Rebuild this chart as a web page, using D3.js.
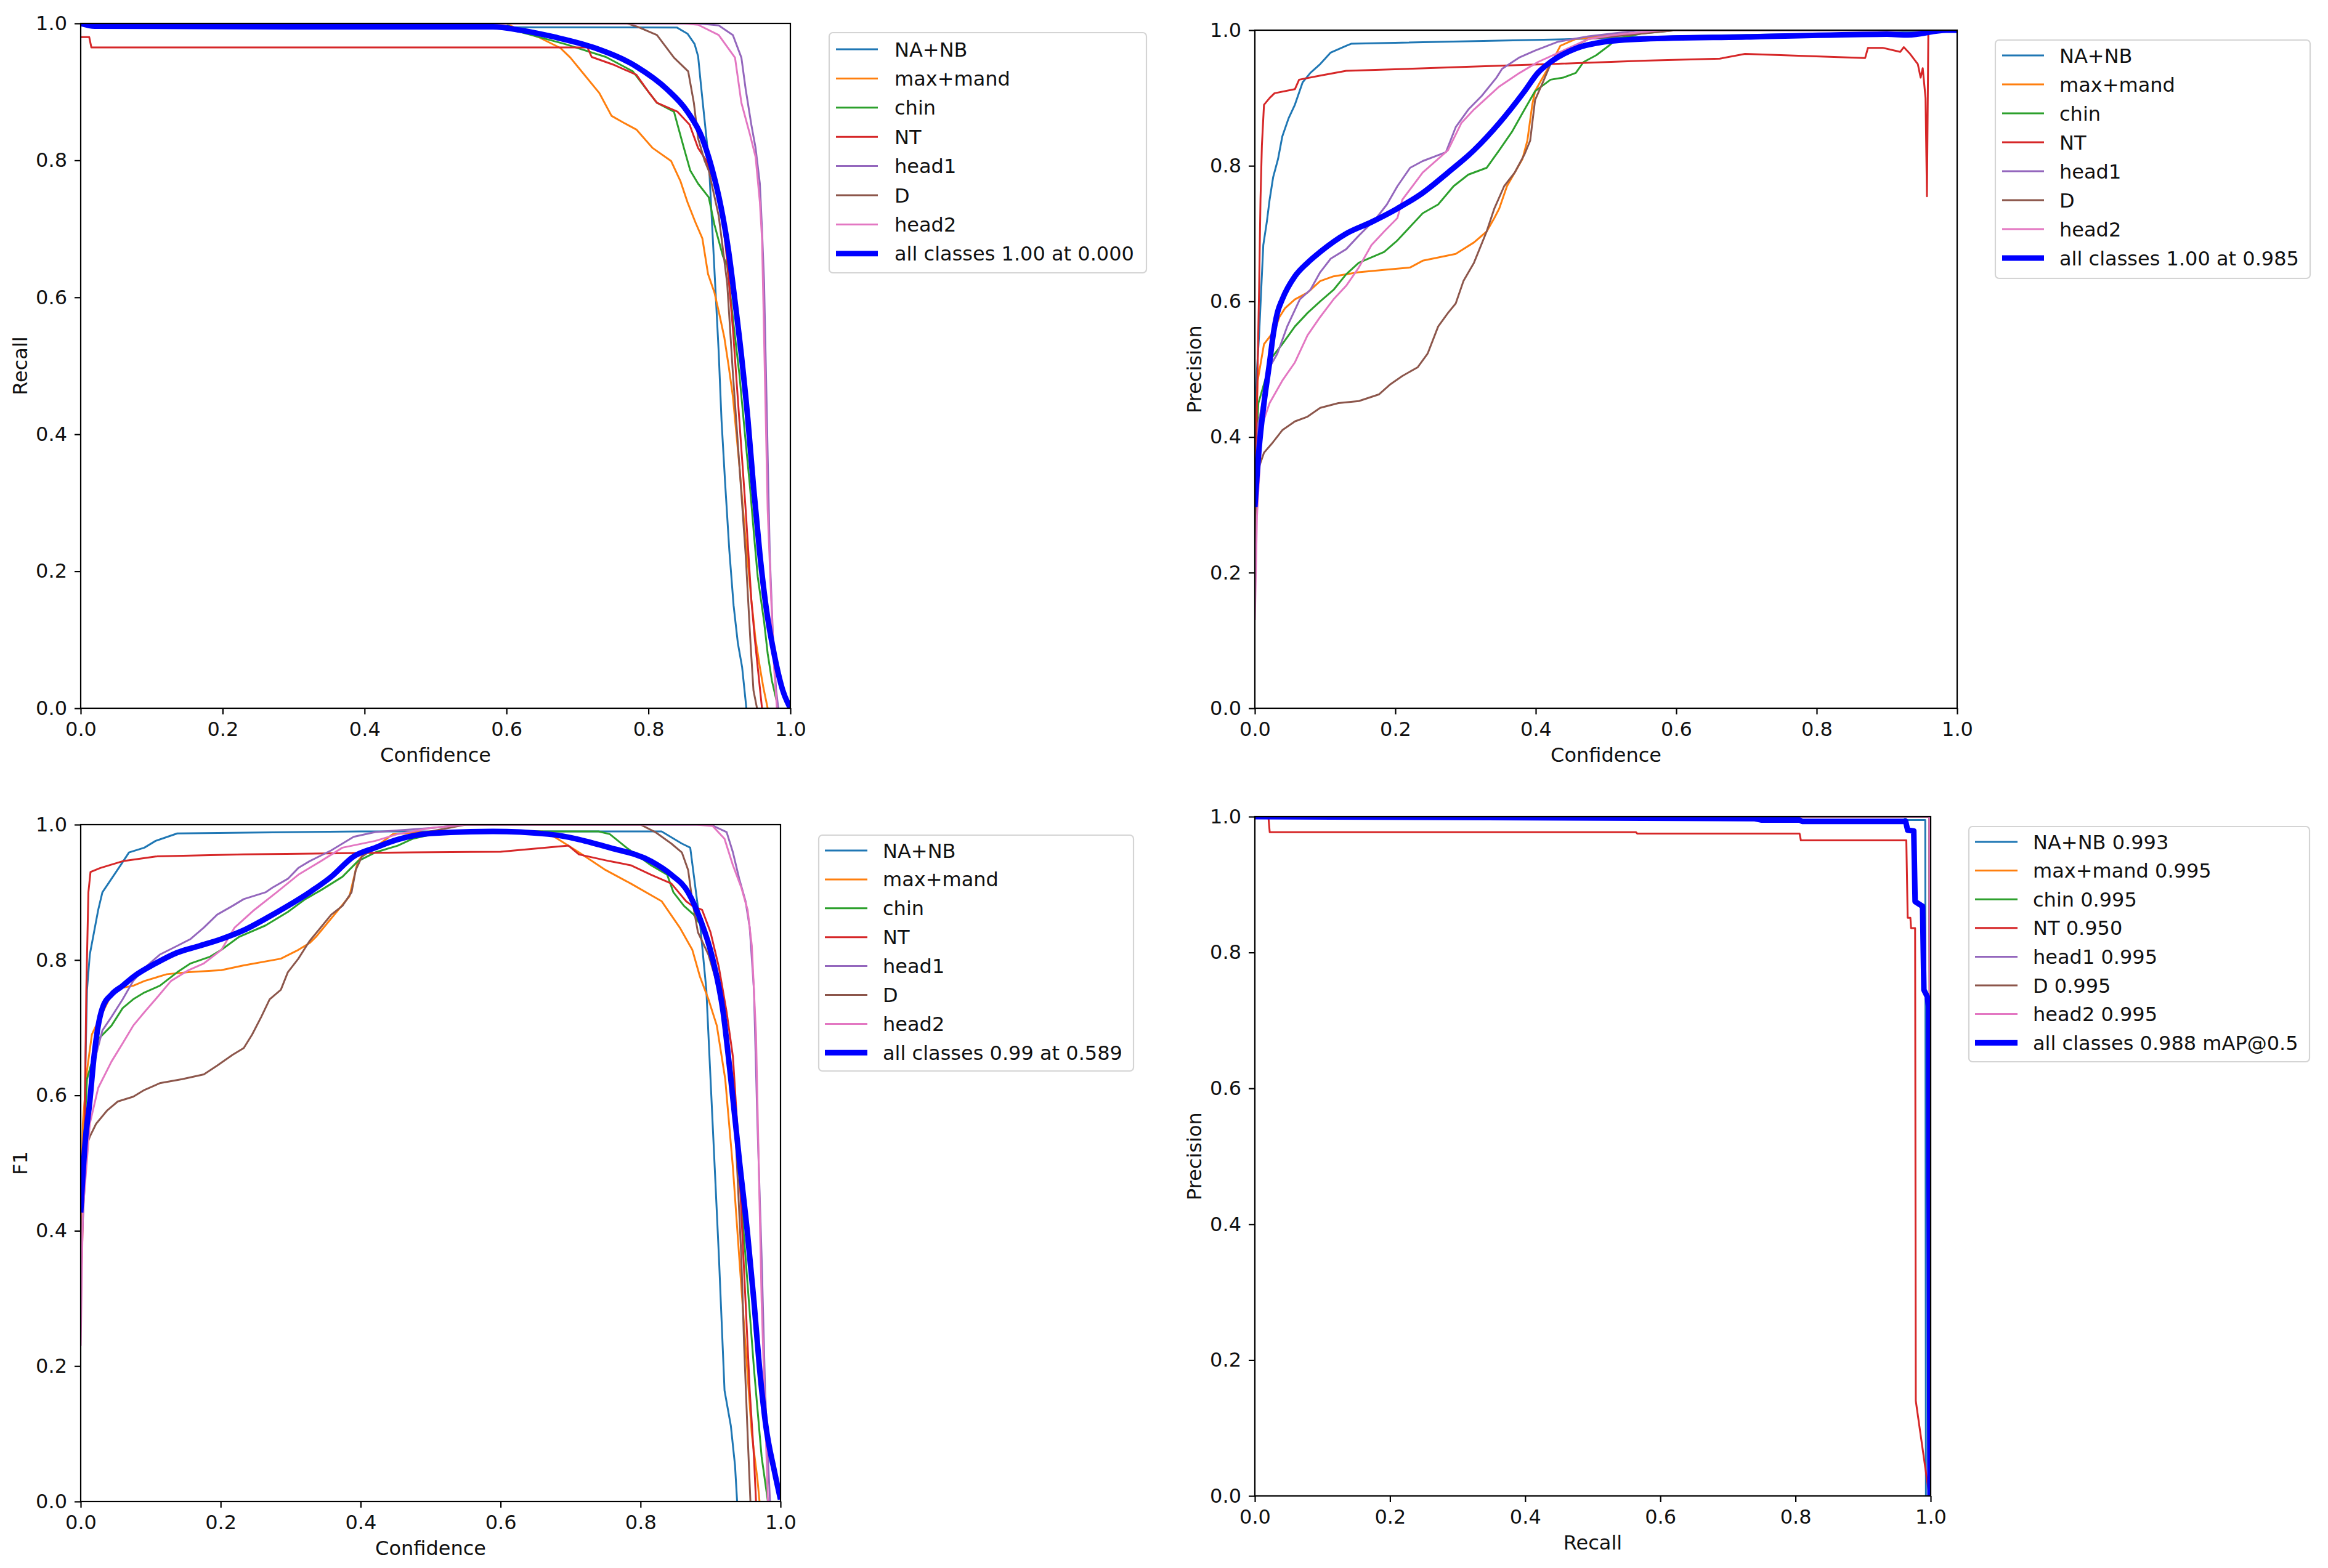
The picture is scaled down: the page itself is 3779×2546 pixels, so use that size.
<!DOCTYPE html>
<html>
<head>
<meta charset="utf-8">
<script src="https://cdn.jsdelivr.net/npm/d3@7"></script>
<style>
  body { margin: 0; background: #ffffff; }
  text { font-family: "DejaVu Sans", sans-serif; fill: #111; }
</style>
</head>
<body>
<div id="chart"></div>
<script>
// class names, colours and tick values
const classNames = ["NA+NB", "max+mand", "chin", "NT", "head1", "D", "head2"];
const classColors = ["#1f77b4", "#ff7f0e", "#2ca02c", "#d62728", "#9467bd", "#8c564b", "#e377c2"];
const apValues = ["0.993", "0.995", "0.995", "0.950", "0.995", "0.995", "0.995"];
const tickValues = [0, 0.2, 0.4, 0.6, 0.8, 1.0];
const allLabels = ["all classes 1.00 at 0.000", "all classes 1.00 at 0.985",
                   "all classes 0.99 at 0.589", "all classes 0.988 mAP@0.5"];

// Recall vs confidence
const rcNANB = [[0,1.0],[0.02,0.995],[0.84,0.994],[0.855,0.985],[0.865,0.97],[0.87,0.952],[0.874,0.91],[0.879,0.86],[0.885,0.80],[0.889,0.72],[0.894,0.62],[0.899,0.52],[0.903,0.42],[0.908,0.33],[0.914,0.23],[0.92,0.15],[0.926,0.095],[0.932,0.06],[0.938,0]];
const rcMax = [[0,1.0],[0.6,1.0],[0.618,0.99],[0.645,0.98],[0.676,0.964],[0.69,0.95],[0.705,0.931],[0.731,0.898],[0.748,0.865],[0.765,0.855],[0.783,0.845],[0.806,0.818],[0.832,0.799],[0.845,0.77],[0.855,0.739],[0.866,0.71],[0.876,0.686],[0.884,0.634],[0.893,0.607],[0.9,0.575],[0.907,0.541],[0.913,0.50],[0.919,0.455],[0.928,0.356],[0.936,0.257],[0.945,0.158],[0.951,0.10],[0.957,0.06],[0.962,0.03],[0.968,0]];
const rcChin = [[0,1.0],[0.6,1.0],[0.61,0.99],[0.682,0.97],[0.74,0.951],[0.778,0.93],[0.80,0.90],[0.812,0.884],[0.836,0.871],[0.841,0.852],[0.85,0.818],[0.859,0.785],[0.870,0.766],[0.885,0.746],[0.893,0.706],[0.905,0.66],[0.911,0.647],[0.92,0.56],[0.928,0.489],[0.936,0.40],[0.943,0.324],[0.949,0.25],[0.954,0.192],[0.963,0.126],[0.968,0.08],[0.974,0.04],[0.983,0]];
const rcNT = [[0,0.98],[0.012,0.98],[0.015,0.965],[0.714,0.965],[0.72,0.951],[0.75,0.94],[0.783,0.925],[0.80,0.90],[0.812,0.884],[0.841,0.871],[0.858,0.852],[0.870,0.818],[0.882,0.799],[0.893,0.766],[0.902,0.739],[0.906,0.70],[0.911,0.653],[0.919,0.554],[0.928,0.422],[0.937,0.29],[0.945,0.158],[0.950,0.10],[0.954,0.06],[0.960,0]];
const rcHead1 = [[0,1.0],[0.87,1.0],[0.899,0.997],[0.919,0.983],[0.931,0.95],[0.937,0.904],[0.945,0.852],[0.951,0.818],[0.957,0.766],[0.960,0.70],[0.963,0.62],[0.965,0.52],[0.967,0.422],[0.969,0.32],[0.971,0.224],[0.976,0.09],[0.98,0.026],[0.983,0]];
const rcD = [[0,1.0],[0.77,1.0],[0.785,0.995],[0.812,0.983],[0.836,0.95],[0.856,0.93],[0.864,0.884],[0.870,0.832],[0.879,0.80],[0.885,0.785],[0.899,0.719],[0.905,0.67],[0.911,0.62],[0.919,0.489],[0.928,0.357],[0.937,0.224],[0.944,0.092],[0.948,0.026],[0.953,0]];
const rcHead2 = [[0,1.0],[0.85,1.0],[0.870,0.998],[0.899,0.983],[0.922,0.95],[0.931,0.884],[0.943,0.838],[0.951,0.805],[0.957,0.739],[0.96,0.686],[0.962,0.59],[0.964,0.489],[0.966,0.39],[0.968,0.29],[0.973,0.158],[0.977,0.06],[0.981,0]];
const rcAll = [[0,1.0],[0.02,0.996],[0.3,0.995],[0.581,0.995],[0.62,0.99],[0.668,0.98],[0.725,0.964],[0.783,0.937],[0.826,0.904],[0.855,0.871],[0.876,0.832],[0.890,0.786],[0.902,0.733],[0.913,0.667],[0.922,0.594],[0.931,0.515],[0.940,0.423],[0.948,0.324],[0.957,0.225],[0.966,0.146],[0.977,0.08],[0.989,0.027],[1.0,0.0]];

// Precision vs confidence
const pcNANB = [[0,0.40],[0.003,0.50],[0.006,0.55],[0.012,0.683],[0.017,0.717],[0.021,0.75],[0.026,0.783],[0.033,0.81],[0.039,0.843],[0.048,0.87],[0.057,0.89],[0.068,0.923],[0.079,0.937],[0.093,0.95],[0.108,0.967],[0.13,0.977],[0.137,0.98],[0.457,0.987],[0.55,0.99],[0.7,0.993],[0.9,0.996],[1.0,1.0]];
const pcMax = [[0,0.35],[0.004,0.483],[0.013,0.537],[0.028,0.557],[0.035,0.577],[0.043,0.59],[0.057,0.603],[0.075,0.613],[0.093,0.63],[0.112,0.637],[0.148,0.643],[0.188,0.647],[0.221,0.65],[0.239,0.66],[0.286,0.67],[0.312,0.687],[0.33,0.703],[0.341,0.723],[0.348,0.737],[0.359,0.77],[0.37,0.79],[0.381,0.81],[0.388,0.837],[0.395,0.89],[0.399,0.91],[0.406,0.923],[0.417,0.943],[0.428,0.963],[0.435,0.977],[0.457,0.987],[0.493,0.991],[0.53,0.995],[0.6,1.0],[1.0,1.0]];
const pcChin = [[0,0.35],[0.005,0.45],[0.024,0.517],[0.039,0.537],[0.057,0.563],[0.075,0.583],[0.093,0.6],[0.112,0.617],[0.13,0.64],[0.148,0.657],[0.184,0.673],[0.203,0.69],[0.221,0.71],[0.239,0.73],[0.261,0.743],[0.283,0.77],[0.304,0.787],[0.33,0.797],[0.348,0.823],[0.366,0.85],[0.384,0.883],[0.399,0.91],[0.421,0.927],[0.439,0.93],[0.457,0.937],[0.468,0.953],[0.486,0.963],[0.504,0.977],[0.515,0.987],[0.55,0.995],[0.6,1.0],[1.0,1.0]];
const pcNT = [[0,0.25],[0.003,0.45],[0.006,0.617],[0.008,0.75],[0.01,0.83],[0.013,0.89],[0.021,0.90],[0.028,0.907],[0.057,0.913],[0.063,0.927],[0.093,0.933],[0.13,0.94],[0.275,0.945],[0.42,0.95],[0.555,0.955],[0.662,0.958],[0.698,0.965],[0.869,0.959],[0.873,0.974],[0.894,0.974],[0.919,0.968],[0.924,0.975],[0.933,0.965],[0.944,0.95],[0.948,0.93],[0.951,0.944],[0.955,0.90],[0.957,0.755],[0.959,1.0],[1.0,1.0]];
const pcHead1 = [[0,0.32],[0.005,0.42],[0.021,0.503],[0.032,0.523],[0.046,0.563],[0.064,0.603],[0.079,0.617],[0.093,0.643],[0.108,0.663],[0.13,0.677],[0.148,0.697],[0.173,0.723],[0.188,0.743],[0.203,0.77],[0.221,0.797],[0.239,0.807],[0.272,0.82],[0.286,0.857],[0.304,0.883],[0.323,0.903],[0.344,0.93],[0.352,0.943],[0.377,0.96],[0.399,0.97],[0.432,0.983],[0.475,0.991],[0.55,1.0],[1.0,1.0]];
const pcD = [[0,0.217],[0.004,0.35],[0.013,0.377],[0.024,0.39],[0.039,0.41],[0.057,0.423],[0.075,0.43],[0.093,0.443],[0.119,0.45],[0.148,0.453],[0.177,0.463],[0.192,0.477],[0.21,0.49],[0.232,0.503],[0.246,0.523],[0.261,0.563],[0.275,0.583],[0.286,0.597],[0.297,0.63],[0.312,0.657],[0.33,0.703],[0.341,0.737],[0.355,0.77],[0.37,0.79],[0.384,0.817],[0.392,0.837],[0.399,0.897],[0.41,0.923],[0.421,0.95],[0.443,0.97],[0.475,0.987],[0.6,1.0],[1.0,1.0]];
const pcHead2 = [[0,0.13],[0.003,0.283],[0.01,0.417],[0.021,0.45],[0.039,0.483],[0.057,0.51],[0.075,0.55],[0.093,0.577],[0.112,0.603],[0.13,0.623],[0.148,0.65],[0.166,0.683],[0.184,0.703],[0.203,0.723],[0.21,0.75],[0.239,0.79],[0.275,0.823],[0.294,0.863],[0.312,0.883],[0.348,0.917],[0.377,0.937],[0.403,0.953],[0.439,0.97],[0.475,0.987],[0.512,0.993],[0.58,1.0],[1.0,1.0]];
const pcAll = [[0,0.297],[0.006,0.383],[0.013,0.45],[0.021,0.51],[0.026,0.55],[0.032,0.583],[0.039,0.603],[0.057,0.637],[0.075,0.657],[0.093,0.673],[0.13,0.7],[0.166,0.717],[0.203,0.737],[0.239,0.76],[0.275,0.79],[0.312,0.823],[0.348,0.863],[0.384,0.91],[0.403,0.937],[0.421,0.953],[0.457,0.973],[0.493,0.982],[0.555,0.987],[0.7,0.99],[0.9,0.994],[0.93,0.993],[0.985,1.0],[1.0,1.0]];

// F1 vs confidence
const fcNANB = [[0,0.35],[0.005,0.558],[0.009,0.756],[0.013,0.808],[0.019,0.841],[0.025,0.874],[0.031,0.9],[0.044,0.92],[0.057,0.94],[0.069,0.959],[0.091,0.966],[0.107,0.976],[0.138,0.987],[0.4,0.99],[0.83,0.99],[0.859,0.972],[0.871,0.966],[0.876,0.926],[0.885,0.854],[0.894,0.756],[0.9,0.624],[0.906,0.493],[0.912,0.361],[0.92,0.164],[0.929,0.112],[0.935,0.053],[0.938,0]];
const fcMax = [[0,0.394],[0.003,0.558],[0.009,0.637],[0.016,0.69],[0.022,0.703],[0.044,0.749],[0.06,0.759],[0.075,0.762],[0.091,0.769],[0.123,0.779],[0.154,0.782],[0.201,0.785],[0.233,0.792],[0.286,0.802],[0.311,0.815],[0.327,0.825],[0.336,0.834],[0.352,0.854],[0.368,0.874],[0.384,0.894],[0.39,0.92],[0.396,0.946],[0.406,0.959],[0.428,0.972],[0.446,0.986],[0.5,0.99],[0.66,0.99],[0.68,0.98],[0.712,0.959],[0.75,0.933],[0.786,0.913],[0.83,0.887],[0.856,0.848],[0.874,0.815],[0.885,0.775],[0.897,0.742],[0.909,0.703],[0.921,0.624],[0.932,0.493],[0.941,0.361],[0.95,0.23],[0.959,0.099],[0.967,0.033],[0.97,0]];
const fcChin = [[0,0.427],[0.009,0.624],[0.025,0.683],[0.044,0.703],[0.06,0.729],[0.075,0.742],[0.091,0.752],[0.113,0.762],[0.138,0.782],[0.157,0.795],[0.185,0.805],[0.201,0.815],[0.226,0.834],[0.264,0.851],[0.296,0.871],[0.321,0.89],[0.343,0.903],[0.374,0.923],[0.396,0.946],[0.421,0.959],[0.453,0.969],[0.474,0.979],[0.52,0.99],[0.74,0.99],[0.756,0.986],[0.78,0.966],[0.815,0.94],[0.838,0.926],[0.847,0.9],[0.862,0.88],[0.876,0.867],[0.888,0.848],[0.9,0.821],[0.912,0.756],[0.926,0.657],[0.938,0.526],[0.95,0.361],[0.962,0.197],[0.973,0.066],[0.982,0]];
const fcNT = [[0,0.296],[0.005,0.493],[0.008,0.756],[0.011,0.9],[0.014,0.93],[0.028,0.936],[0.06,0.946],[0.107,0.953],[0.233,0.956],[0.474,0.959],[0.6,0.96],[0.697,0.969],[0.712,0.956],[0.756,0.946],[0.786,0.94],[0.815,0.926],[0.844,0.913],[0.865,0.887],[0.874,0.88],[0.888,0.874],[0.9,0.841],[0.912,0.789],[0.923,0.723],[0.932,0.657],[0.938,0.559],[0.944,0.427],[0.95,0.296],[0.956,0.164],[0.962,0.066],[0.965,0]];
const fcHead1 = [[0,0.35],[0.013,0.624],[0.031,0.696],[0.044,0.716],[0.06,0.742],[0.075,0.769],[0.091,0.788],[0.113,0.808],[0.138,0.821],[0.157,0.831],[0.176,0.848],[0.195,0.867],[0.217,0.88],[0.233,0.89],[0.264,0.9],[0.274,0.907],[0.296,0.92],[0.311,0.936],[0.327,0.946],[0.358,0.962],[0.39,0.982],[0.421,0.989],[0.5,0.995],[0.55,1.0],[0.9,1.0],[0.923,0.989],[0.932,0.959],[0.941,0.92],[0.95,0.887],[0.956,0.848],[0.962,0.756],[0.967,0.559],[0.973,0.361],[0.978,0.164],[0.982,0.066],[0.985,0]];
const fcD = [[0,0.35],[0.006,0.519],[0.013,0.539],[0.022,0.558],[0.038,0.578],[0.053,0.591],[0.075,0.598],[0.091,0.608],[0.113,0.618],[0.145,0.624],[0.176,0.631],[0.195,0.644],[0.217,0.66],[0.233,0.67],[0.245,0.69],[0.258,0.716],[0.27,0.742],[0.286,0.756],[0.296,0.782],[0.311,0.802],[0.327,0.828],[0.343,0.848],[0.358,0.867],[0.374,0.88],[0.387,0.9],[0.393,0.933],[0.402,0.953],[0.421,0.966],[0.453,0.979],[0.5,0.99],[0.55,1.0],[0.8,1.0],[0.821,0.989],[0.844,0.972],[0.859,0.959],[0.868,0.933],[0.874,0.887],[0.882,0.841],[0.897,0.808],[0.912,0.756],[0.923,0.69],[0.932,0.624],[0.938,0.493],[0.944,0.361],[0.948,0.23],[0.953,0.099],[0.957,0]];
const fcHead2 = [[0,0.23],[0.003,0.427],[0.013,0.558],[0.025,0.611],[0.044,0.65],[0.06,0.677],[0.075,0.703],[0.091,0.723],[0.107,0.742],[0.129,0.769],[0.154,0.785],[0.176,0.795],[0.201,0.815],[0.22,0.848],[0.248,0.874],[0.28,0.9],[0.311,0.926],[0.343,0.946],[0.374,0.966],[0.421,0.976],[0.453,0.986],[0.5,0.995],[0.55,1.0],[0.88,1.0],[0.903,0.998],[0.92,0.979],[0.932,0.94],[0.944,0.907],[0.953,0.874],[0.959,0.821],[0.965,0.69],[0.969,0.493],[0.973,0.296],[0.978,0.131],[0.982,0]];
const fcAll = [[0,0.427],[0.006,0.526],[0.013,0.591],[0.019,0.657],[0.025,0.703],[0.031,0.729],[0.044,0.749],[0.06,0.762],[0.075,0.775],[0.107,0.795],[0.138,0.811],[0.17,0.821],[0.201,0.831],[0.233,0.844],[0.264,0.861],[0.296,0.88],[0.327,0.9],[0.358,0.923],[0.39,0.953],[0.421,0.966],[0.453,0.978],[0.5,0.987],[0.589,0.99],[0.668,0.986],[0.756,0.966],[0.815,0.946],[0.844,0.926],[0.868,0.9],[0.885,0.861],[0.903,0.802],[0.918,0.723],[0.929,0.624],[0.941,0.506],[0.953,0.394],[0.962,0.296],[0.970,0.197],[0.979,0.112],[0.991,0.046],[1.0,0.003]];

// Precision vs recall
const prNANB = [[0,1.0],[0.96,1.0],[0.965,0.995],[0.992,0.995],[0.993,0.0]];
const prMax = [[0,1.0],[0.998,1.0],[1.0,0.0]];
const prChin = [[0,1.0],[0.998,1.0],[1.0,0.0]];
const prNT = [[0,1.0],[0.02,1.0],[0.022,0.977],[0.564,0.977],[0.566,0.975],[0.806,0.975],[0.808,0.965],[0.964,0.965],[0.966,0.851],[0.97,0.851],[0.971,0.836],[0.977,0.836],[0.978,0.14],[0.998,0.0]];
const prHead1 = [[0,1.0],[0.998,1.0],[1.0,0.0]];
const prD = [[0,1.0],[0.998,1.0],[1.0,0.0]];
const prHead2 = [[0,1.0],[0.998,1.0],[1.0,0.0]];
const prAll = [[0,1.0],[0.74,0.997],[0.75,0.995],[0.806,0.995],[0.81,0.993],[0.963,0.993],[0.966,0.98],[0.975,0.979],[0.977,0.875],[0.988,0.868],[0.99,0.745],[0.995,0.735],[0.997,0.72],[0.999,0.0]];

window.onload = function () {

    const fontSize = 32;

    const svg = d3.select("#chart")
        .append("svg")
        .attr("width", 3779)
        .attr("height", 2546)
        .style("background", "#ffffff");

    // panel layout (pixel boxes of each axes and legend)
    const panels = [
        { plot: { x: 131, y: 38, w: 1152, h: 1112 }, xLabel: "Confidence", yLabel: "Recall",
          series: [rcNANB, rcMax, rcChin, rcNT, rcHead1, rcD, rcHead2], all: rcAll, allLabel: allLabels[0],
          names: classNames,
          legend: { x: 1346, y: 53, w: 515, h: 390, h0: 1357, h1: 1425, tx: 1452, row0: 80, step: 47.4 } },
        { plot: { x: 2037, y: 49, w: 1140, h: 1101 }, xLabel: "Confidence", yLabel: "Precision",
          series: [pcNANB, pcMax, pcChin, pcNT, pcHead1, pcD, pcHead2], all: pcAll, allLabel: allLabels[1],
          names: classNames,
          legend: { x: 3239, y: 65, w: 511, h: 387, h0: 3250, h1: 3318, tx: 3343, row0: 90, step: 47.0 } },
        { plot: { x: 131, y: 1339, w: 1136, h: 1099 }, xLabel: "Confidence", yLabel: "F1",
          series: [fcNANB, fcMax, fcChin, fcNT, fcHead1, fcD, fcHead2], all: fcAll, allLabel: allLabels[2],
          names: classNames,
          legend: { x: 1329, y: 1356, w: 511, h: 383, h0: 1339, h1: 1408, tx: 1433, row0: 1381, step: 46.9 } },
        { plot: { x: 2037, y: 1326, w: 1097, h: 1103 }, xLabel: "Recall", yLabel: "Precision",
          series: [prNANB, prMax, prChin, prNT, prHead1, prD, prHead2], all: prAll, allLabel: allLabels[3],
          names: classNames.map((n, i) => n + " " + apValues[i]),
          legend: { x: 3196, y: 1342, w: 553, h: 382, h0: 3206, h1: 3275, tx: 3300, row0: 1367, step: 46.6 } }
    ];

    panels.forEach((p, i) => drawPanel(p, i));

    function drawPanel(p, idx) {
        const x = d3.scaleLinear().domain([0, 1]).range([p.plot.x, p.plot.x + p.plot.w]);
        const y = d3.scaleLinear().domain([0, 1]).range([p.plot.y + p.plot.h, p.plot.y]);

        const clipId = "clip" + idx;
        svg.append("clipPath").attr("id", clipId)
            .append("rect")
            .attr("x", p.plot.x).attr("y", p.plot.y)
            .attr("width", p.plot.w).attr("height", p.plot.h);

        const line = d3.line().x(d => x(d[0])).y(d => y(d[1]));
        const smooth = d3.line().x(d => x(d[0])).y(d => y(d[1])).curve(d3.curveMonotoneX);

        const g = svg.append("g").attr("clip-path", `url(#${clipId})`);

        // per class lines
        g.selectAll(".cls")
            .data(p.series)
            .enter().append("path")
            .attr("class", "cls")
            .attr("d", line)
            .attr("fill", "none")
            .attr("stroke", (d, i) => classColors[i])
            .attr("stroke-width", 3)
            .attr("stroke-linejoin", "round");

        // all classes line
        g.append("path")
            .attr("d", idx === 3 ? line(p.all) : smooth(p.all))
            .attr("fill", "none")
            .attr("stroke", "#0000ff")
            .attr("stroke-width", 9)
            .attr("stroke-linejoin", "round");

        // axes
        const xAxis = svg.append("g")
            .attr("transform", `translate(0,${p.plot.y + p.plot.h})`)
            .call(d3.axisBottom(x).tickValues(tickValues).tickFormat(d3.format(".1f")).tickSize(10).tickPadding(12));
        const yAxis = svg.append("g")
            .attr("transform", `translate(${p.plot.x},0)`)
            .call(d3.axisLeft(y).tickValues(tickValues).tickFormat(d3.format(".1f")).tickSize(10).tickPadding(12));

        [xAxis, yAxis].forEach(a => {
            a.select(".domain").remove();
            a.selectAll("line").attr("stroke", "#000").attr("stroke-width", 2.2);
            a.selectAll("text").style("font-size", fontSize + "px").style("font-family", "DejaVu Sans").attr("fill", "#111");
        });

        // frame
        svg.append("rect")
            .attr("x", p.plot.x).attr("y", p.plot.y)
            .attr("width", p.plot.w).attr("height", p.plot.h)
            .attr("fill", "none")
            .attr("stroke", "#000")
            .attr("stroke-width", 2.2);

        // axis labels
        svg.append("text")
            .attr("x", p.plot.x + p.plot.w / 2)
            .attr("y", p.plot.y + p.plot.h + 87)
            .attr("text-anchor", "middle")
            .style("font-size", fontSize + "px")
            .text(p.xLabel);

        const lx = p.plot.x - 87, ly = p.plot.y + p.plot.h / 2;
        svg.append("text")
            .attr("transform", `translate(${lx},${ly}) rotate(-90)`)
            .attr("text-anchor", "middle")
            .style("font-size", fontSize + "px")
            .text(p.yLabel);

        drawLegend(p);
    }

    function drawLegend(p) {
        const L = p.legend;
        const lg = svg.append("g");

        lg.append("rect")
            .attr("x", L.x).attr("y", L.y)
            .attr("width", L.w).attr("height", L.h)
            .attr("rx", 6)
            .attr("fill", "#ffffff")
            .attr("stroke", "#d4d4d4")
            .attr("stroke-width", 2.2);

        const labels = p.names.concat([p.allLabel]);
        const colors = classColors.concat(["#0000ff"]);

        labels.forEach((lab, i) => {
            const cy = L.row0 + i * L.step;
            lg.append("line")
                .attr("x1", L.h0).attr("x2", L.h1)
                .attr("y1", cy).attr("y2", cy)
                .attr("stroke", colors[i])
                .attr("stroke-width", i === 7 ? 9 : 3);
            lg.append("text")
                .attr("x", L.tx)
                .attr("y", cy + 11.5)
                .style("font-size", fontSize + "px")
                .text(lab);
        });
    }
};
</script>
</body>
</html>
